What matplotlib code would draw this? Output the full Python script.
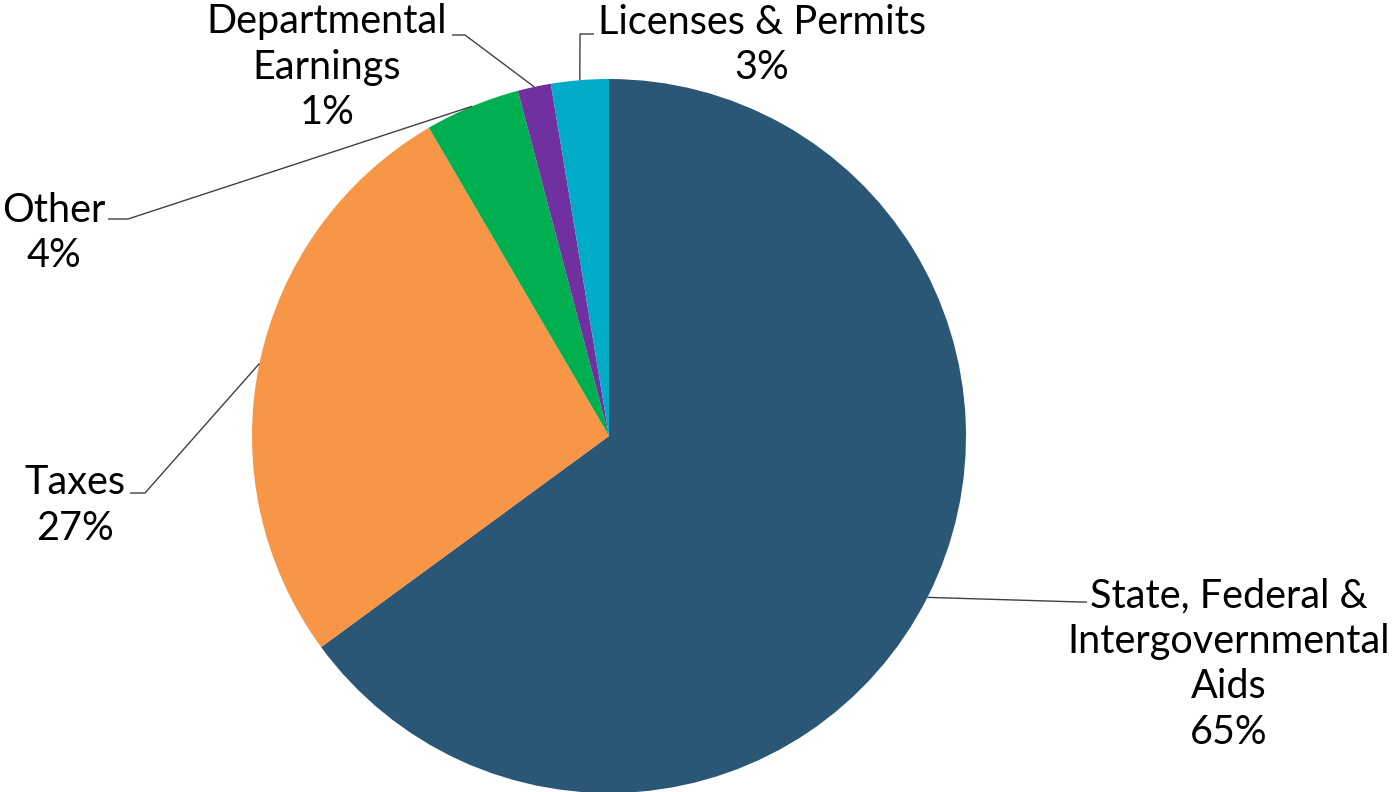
import numpy as np
import matplotlib.pyplot as plt

plt.rcParams['font.family'] = ['Lato', 'DejaVu Sans']

# revenue sources, clockwise from 12 o'clock
categories = ['State, Federal &\nIntergovernmental\nAids', 'Taxes', 'Other',
              'Departmental\nEarnings', 'Licenses & Permits']
shares = [64.8, 26.6, 4.3, 1.5, 2.6]
pct_labels = ['65%', '27%', '4%', '1%', '3%']
colors = ['#2B5777', '#F79646', '#00B050', '#7030A0', '#00ACC8']

W, H = 1395, 792
fig = plt.figure(figsize=(W / 100, H / 100), dpi=100)
ax = fig.add_axes([0, 0, 1, 1])

cx, cy, r = 609, H - 436, 357
wedges, _ = ax.pie(shares, colors=colors, startangle=90, counterclock=False,
                   center=(cx, cy), radius=r, frame=True,
                   wedgeprops=dict(linewidth=0))
ax.set_xlim(0, W)
ax.set_ylim(0, H)
ax.set_aspect('equal')
ax.axis('off')

# label layout (pixel coords, y from top): first text line centre, elbow, line end
layout = [
    dict(txt=(1229, 596), elbow=(1080, 602), end=(1087, 602)),
    dict(txt=(75, 483), elbow=(145, 493), end=(130, 493)),
    dict(txt=(54, 210), elbow=(128, 219), end=(108, 219)),
    dict(txt=(327, 22), elbow=(465, 35), end=(452, 35)),
    dict(txt=(762, 22), elbow=(580, 34), end=(594, 34)),
]

for w, name, pct, lay in zip(wedges, categories, pct_labels, layout):
    mid = np.deg2rad((w.theta1 + w.theta2) / 2)
    x0 = cx + r * np.cos(mid)
    y0 = cy + r * np.sin(mid)
    ex, ey = lay['elbow']
    fx, fy = lay['end']
    ax.plot([x0, ex, fx], [y0, H - ey, H - fy], color='#404040', lw=1.0,
            solid_capstyle='butt', zorder=3)
    tx, ty = lay['txt']
    lines = (name + '\n' + pct).split('\n')
    for i, ln in enumerate(lines):
        ax.text(tx, H - ty - i * 45.5, ln, ha='center', va='center',
                fontsize=28.5, color='#000000')

fig.savefig('out.png', dpi=100)
